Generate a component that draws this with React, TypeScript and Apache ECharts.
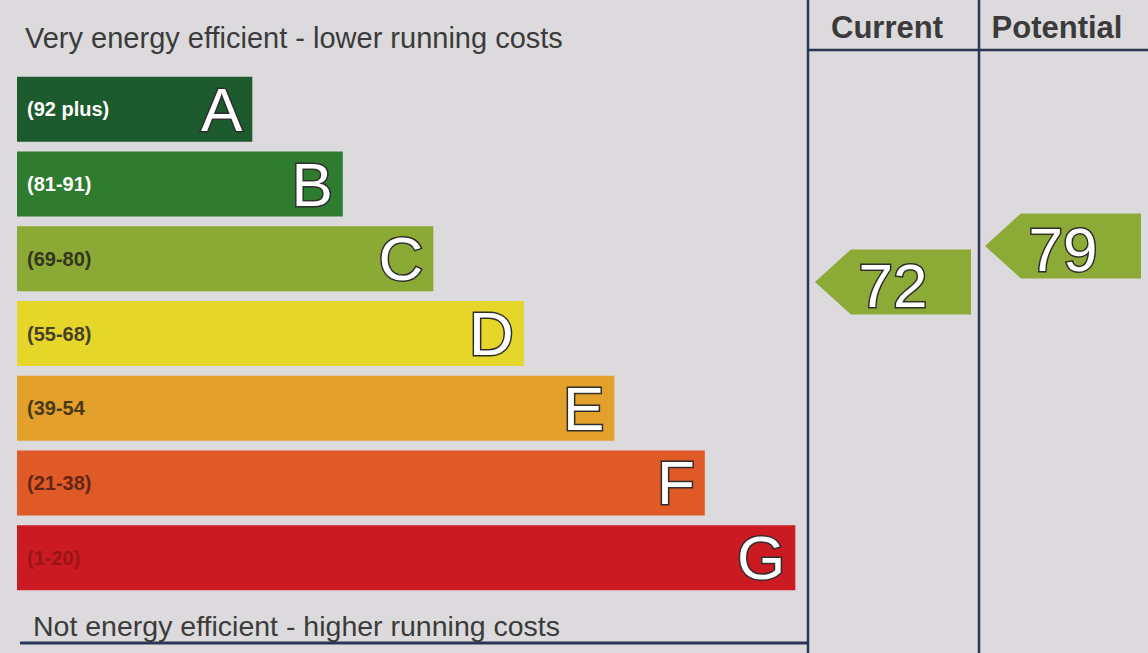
import React, { useEffect, useRef } from "react";
import * as echarts from "echarts";

const bands = ["A", "B", "C", "D", "E", "F", "G"];
const ranges = ["(92 plus)", "(81-91)", "(69-80)", "(55-68)", "(39-54", "(21-38)", "(1-20)"];
const barLengths = [26, 36, 46, 56, 66, 76, 86];
const bandColors = ["#1d5a2d", "#2f7b2f", "#8aa935", "#e5d629", "#e3a12b", "#df5a27", "#cc1a22"];
const rangeColors = ["#ffffff", "#ffffff", "#34341f", "#45402a", "#4a3816", "#642614", "#9a1418"];
const columns = ["Current", "Potential"];
const scores = [72, 79];

const FONT = "'Liberation Sans', Arial, sans-serif";
const LINE = "#2b3656";

export default function App() {
  const ref = useRef<HTMLDivElement>(null);
  useEffect(() => {
    document.body.style.margin = "0";
    const chart = echarts.init(ref.current!, null, { renderer: "svg" });
    chart.setOption({
      animation: false,
      backgroundColor: "#dcdadc",
      grid: [
        { left: 17, width: 791, top: 72, height: 523 },
        { left: 808, width: 342, top: 138, height: 514 },
      ],
      xAxis: [
        { type: "value", gridIndex: 0, min: 0, max: 87.4, show: false },
        { type: "category", gridIndex: 1, data: columns, show: false },
      ],
      yAxis: [
        { type: "category", gridIndex: 0, data: bands, inverse: true, show: false },
        { type: "value", gridIndex: 1, min: 0, max: 100, show: false },
      ],
      series: [
        {
          type: "bar",
          xAxisIndex: 0,
          yAxisIndex: 0,
          barWidth: 65,
          barGap: "-100%",
          data: barLengths.map((v, i) => ({
            value: v,
            itemStyle: { color: bandColors[i] },
            label: { color: rangeColors[i] },
          })),
          label: {
            show: true,
            position: "insideLeft",
            distance: 10,
            fontFamily: FONT,
            fontWeight: "bold",
            fontSize: 20,
            formatter: (p: any) => ranges[p.dataIndex],
          },
        },
        {
          type: "bar",
          xAxisIndex: 0,
          yAxisIndex: 0,
          barWidth: 65,
          barGap: "-100%",
          itemStyle: { color: "transparent" },
          data: barLengths,
          label: {
            show: true,
            position: "insideRight",
            distance: 10,
            fontFamily: FONT,
            fontSize: 62,
            color: "#ffffff",
            textBorderColor: "#2e2e2e",
            textBorderWidth: 3,
            formatter: (p: any) => bands[p.dataIndex],
          },
        },
        {
          type: "scatter",
          xAxisIndex: 1,
          yAxisIndex: 1,
          symbol: "path://M0,50 L23,0 L100,0 L100,100 L23,100 Z",
          symbolSize: [156, 65],
          itemStyle: { color: "#8cab36", opacity: 1 },
          data: scores.map((s, i) => [i, s]),
          label: {
            show: true,
            position: "inside",
            offset: [0, 4],
            fontFamily: FONT,
            fontSize: 62,
            color: "#ffffff",
            textBorderColor: "#2e2e2e",
            textBorderWidth: 3,
            formatter: (p: any) => String(p.value[1]),
          },
        },
      ],
      graphic: [
        {
          type: "text",
          left: 25,
          top: 23,
          style: { text: "Very energy efficient - lower running costs", fontFamily: FONT, fontSize: 29, fill: "#3b3b3b" },
        },
        {
          type: "text",
          left: 33,
          top: 611,
          style: { text: "Not energy efficient - higher running costs", fontFamily: FONT, fontSize: 28.5, fill: "#3b3b3b" },
        },
        {
          type: "text",
          x: 887,
          y: 27,
          style: { text: columns[0], fontFamily: FONT, fontSize: 31, fontWeight: "bold", fill: "#3b3b3b", align: "center", verticalAlign: "middle" },
        },
        {
          type: "text",
          x: 1057,
          y: 27,
          style: { text: columns[1], fontFamily: FONT, fontSize: 31, fontWeight: "bold", fill: "#3b3b3b", align: "center", verticalAlign: "middle" },
        },
        { type: "line", shape: { x1: 808, y1: 0, x2: 808, y2: 653 }, style: { stroke: LINE, lineWidth: 2.5 } },
        { type: "line", shape: { x1: 979, y1: 0, x2: 979, y2: 653 }, style: { stroke: LINE, lineWidth: 2.5 } },
        { type: "line", shape: { x1: 808, y1: 50, x2: 1148, y2: 50 }, style: { stroke: LINE, lineWidth: 2.5 } },
        { type: "line", shape: { x1: 20, y1: 643, x2: 808, y2: 643 }, style: { stroke: LINE, lineWidth: 3 } },
      ],
    });
    return () => chart.dispose();
  }, []);
  return <div ref={ref} style={{ position: "fixed", left: 0, top: 0, width: 1148, height: 653 }} />;
}
